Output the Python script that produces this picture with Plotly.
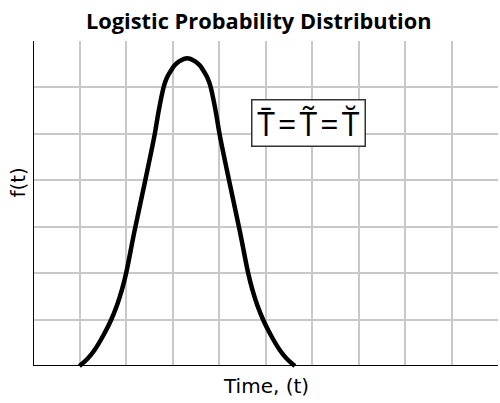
import plotly.graph_objects as go

# Curve (time units vs f(t) units)
t_vals = [0.999, 1.182, 1.324, 1.517, 1.679, 1.808, 1.911, 2.002, 2.180,
          2.411, 2.617, 2.701, 2.803, 2.841, 2.895, 2.971, 3.046, 3.143,
          3.315,
          3.487, 3.584, 3.659, 3.735, 3.789, 3.827, 3.929, 4.013, 4.219,
          4.450, 4.628, 4.719, 4.822, 4.951, 5.113, 5.306, 5.448, 5.631]
f_vals = [0.000, 0.166, 0.345, 0.668, 0.991, 1.314, 1.637, 1.997, 2.893,
          3.985, 4.990, 5.485, 5.981, 6.110, 6.239, 6.369, 6.476, 6.562,
          6.627,
          6.562, 6.476, 6.369, 6.239, 6.110, 5.981, 5.485, 4.990, 3.985,
          2.893, 1.997, 1.637, 1.314, 0.991, 0.668, 0.345, 0.166, 0.000]

x_ticks = list(range(0, 11))
y_ticks = list(range(0, 8))

title_text = "Logistic Probability Distribution"
x_title = "Time, (t)"
y_title = "f(t)"
box_text = "T\u0304\u200a=\u200aT\u0303\u200a=\u200aT\u0306"

fig = go.Figure()
fig.add_trace(go.Scatter(
    x=t_vals, y=f_vals, mode="lines",
    line=dict(color="black", width=4.5, shape="spline", smoothing=1.0),
    hoverinfo="skip", showlegend=False,
))

grid = dict(showgrid=True, gridcolor="#c8c8c8", gridwidth=1.5,
            zeroline=True, zerolinecolor="black", zerolinewidth=2,
            showticklabels=False, ticks="", showline=False, fixedrange=True)

fig.update_layout(
    width=500, height=403,
    margin=dict(l=20, r=2, t=41, b=21),
    paper_bgcolor="white", plot_bgcolor="white",
    xaxis=dict(range=[-0.28, 10], tickvals=x_ticks, **grid),
    yaxis=dict(range=[-0.345, 7], tickvals=y_ticks, **grid),
    shapes=[
        dict(type="rect", xref="x", yref="y", x0=-0.28, x1=0, y0=-0.345, y1=7,
             fillcolor="white", line=dict(width=0), layer="between"),
        dict(type="rect", xref="x", yref="y", x0=-0.28, x1=10, y0=-0.345, y1=0,
             fillcolor="white", line=dict(width=0), layer="between"),
    ],
    annotations=[
        dict(text="<b>" + title_text + "</b>", xref="paper", yref="paper",
             x=0.5, y=1, yshift=21, xanchor="center", yanchor="middle",
             showarrow=False,
             font=dict(family="Open Sans", size=21.8, color="black")),
        dict(text=x_title, xref="x", yref="paper", x=5, y=0, yshift=10,
             xanchor="center", yanchor="top", showarrow=False,
             font=dict(family="DejaVu Sans", size=20, color="black")),
        dict(text=y_title, xref="paper", yref="y", x=0, xshift=-2, y=3.95,
             xanchor="center", yanchor="middle", textangle=-90, showarrow=False,
             font=dict(family="DejaVu Sans", size=20, color="black")),
        dict(text=box_text, xref="x", yref="y", x=5.93, y=5.24,
             xanchor="center", yanchor="middle", showarrow=False,
             bgcolor="white", bordercolor="#333333", borderwidth=1.5,
             borderpad=1, width=110, height=43,
             font=dict(family="Open Sans", size=32, color="black")),
    ],
)

fig.write_html("out.html",
               config={"displayModeBar": False},
               post_script="document.body.style.margin='0';"
                           "document.body.style.padding='0';")
